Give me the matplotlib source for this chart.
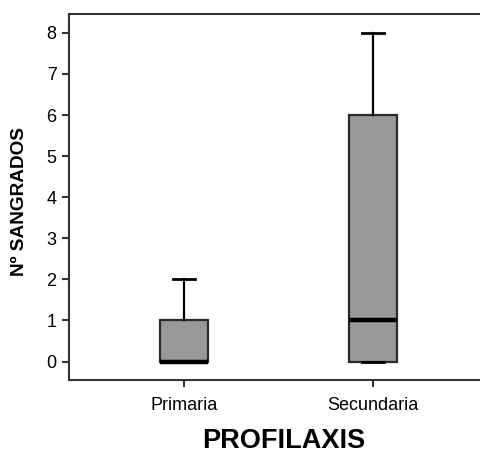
import matplotlib
matplotlib.use('Agg')
import matplotlib.pyplot as plt

plt.rcParams['font.family'] = ['Liberation Sans', 'DejaVu Sans']

# Box statistics
groups = ['Primaria', 'Secundaria']
whislo = [0, 0]
q1 = [0, 0]
med = [0, 1]
q3 = [1, 6]
whishi = [2, 8]

stats = []
for i, name in enumerate(groups):
    stats.append({
        'label': name,
        'whislo': whislo[i],
        'q1': q1[i],
        'med': med[i],
        'q3': q3[i],
        'whishi': whishi[i],
        'fliers': [],
    })

fig = plt.figure(figsize=(4.81, 4.55), dpi=100)
ax = fig.add_axes([69 / 481, 75 / 455, (488 - 69) / 481, (441 - 75) / 455])

edge = '#2a2a2a'
ax.bxp(
    stats,
    positions=[1, 2],
    widths=0.25,
    capwidths=0.12,
    patch_artist=True,
    boxprops=dict(facecolor='#999999', edgecolor=edge, linewidth=1.6),
    medianprops=dict(color='black', linewidth=3.2, solid_capstyle='butt'),
    whiskerprops=dict(color='black', linewidth=1.6),
    capprops=dict(color='black', linewidth=2.0),
    showfliers=False,
)

ax.set_xlim(0.392, 2.608)
ax.set_ylim(-0.45, 8.46)
ax.set_yticks(range(0, 9))
ax.set_xticks([1, 2])
ax.set_xticklabels(groups)

for s in ax.spines.values():
    s.set_color('#333333')
    s.set_linewidth(1.5)

ax.tick_params(axis='both', colors='#333333', width=1.5, length=5, labelsize=13,
               labelcolor='black')
ax.tick_params(axis='y', pad=4)
ax.tick_params(axis='x', pad=7)

fig.text(284 / 481, 1 - 441 / 455, 'PROFILAXIS', fontsize=19.5, fontweight='bold',
         ha='center', va='center')
fig.text(20 / 481, 1 - 201 / 455, 'Nº SANGRADOS', fontsize=13.7, fontweight='bold',
         ha='center', va='center', rotation=90)

fig.savefig('out.png', dpi=100)
